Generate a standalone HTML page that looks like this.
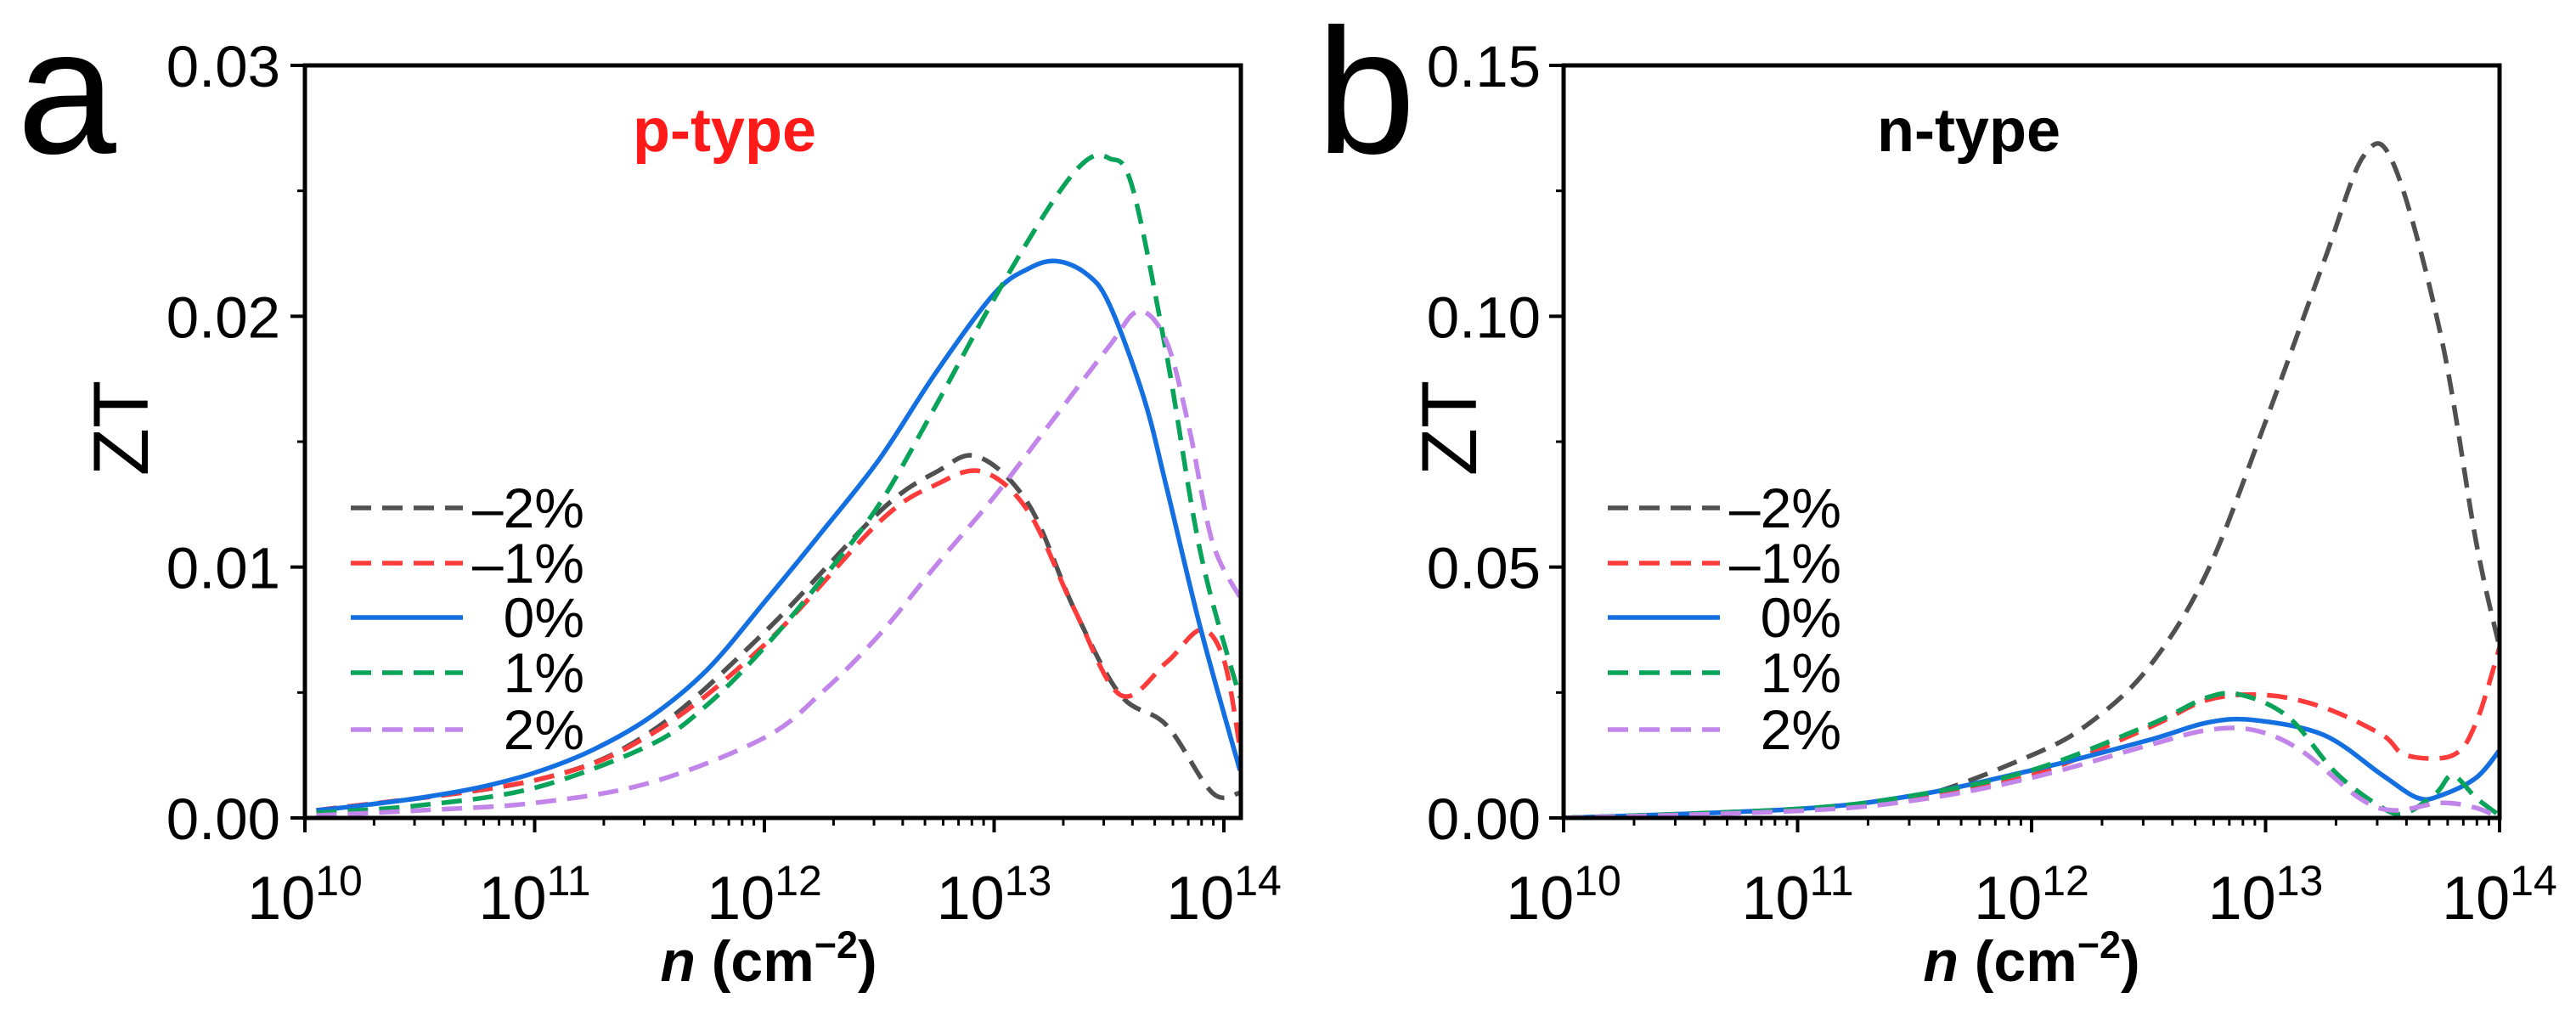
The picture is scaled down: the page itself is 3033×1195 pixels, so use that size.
<!DOCTYPE html>
<html><head><meta charset="utf-8"><style>
html,body{margin:0;padding:0;background:#fff;}
svg{display:block;font-family:"Liberation Sans",Arial,sans-serif;}
</style></head><body>
<svg id="fig" width="3033" height="1195" viewBox="0 0 3033 1195" xmlns="http://www.w3.org/2000/svg"></svg>
<script>
// ---- Panel a data (x = log10 n, y = ZT) ----
const aGrayX=[10.05,11,11.5,12,12.5,12.75,12.93,13.15,13.35,13.55,13.75,13.95,14.07];
const aGrayY=[0.0003,0.0015,0.0034,0.0074,0.0122,0.0138,0.0144,0.0125,0.0083,0.0049,0.0037,0.001,0.001];
const aRedX=[10.05,11,11.5,12,12.5,12.75,12.95,13.15,13.35,13.55,13.75,13.9,14.0,14.07];
const aRedY=[0.0003,0.0015,0.0033,0.0069,0.0118,0.0133,0.0138,0.0122,0.0083,0.0049,0.0062,0.0075,0.0063,0.0028];
const aBlueX=[10.05,10.25,10.5,10.75,11,11.25,11.5,11.75,12,12.25,12.5,12.75,13,13.15,13.27,13.4,13.5,13.65,13.75,13.9,14.07];
const aBlueY=[0.0003,0.0005,0.0008,0.0012,0.0018,0.0027,0.004,0.0059,0.0086,0.0114,0.0143,0.0178,0.0209,0.0219,0.0222,0.0217,0.0205,0.0168,0.0132,0.0075,0.0019];
const aGreenX=[10.05,10.5,11,11.5,11.75,12,12.25,12.5,12.75,13,13.25,13.4,13.5,13.6,13.75,13.9,14.07];
const aGreenY=[0.0002,0.0005,0.0012,0.0029,0.0045,0.0068,0.0095,0.0125,0.0165,0.0207,0.0245,0.0262,0.0263,0.0252,0.0185,0.0105,0.0048];
const aPurpleX=[10.05,10.5,11,11.5,12,12.25,12.5,12.75,13,13.25,13.5,13.63,13.75,13.85,13.95,14.07];
const aPurpleY=[0.0001,0.0003,0.0006,0.0014,0.0032,0.005,0.0073,0.0101,0.0128,0.0158,0.0188,0.0202,0.019,0.0155,0.011,0.0088];
const aYTicks=[0,0.01,0.02,0.03];
const aYLabels=["0.00","0.01","0.02","0.03"];
// ---- Panel b data ----
const bGrayX=[10,11,11.5,12,12.25,12.5,12.75,13,13.25,13.42,13.55,13.75,13.9,14];
const bGrayY=[0,0.0015,0.004,0.0125,0.019,0.03,0.049,0.079,0.111,0.132,0.13,0.096,0.055,0.034];
const bRedX=[10,11,11.5,12,12.5,12.75,13,13.25,13.5,13.6,13.8,13.9,14];
const bRedY=[0,0.0015,0.004,0.0085,0.018,0.0235,0.0245,0.022,0.0165,0.0125,0.0125,0.019,0.034];
const bBlueX=[10,11,11.5,12,12.5,12.75,12.95,13.25,13.5,13.65,13.75,13.9,14];
const bBlueY=[0,0.0018,0.0045,0.0095,0.0155,0.019,0.0195,0.0165,0.0085,0.004,0.0045,0.008,0.0135];
const bGreenX=[10,11,11.5,12,12.5,12.75,12.9,13.1,13.3,13.5,13.6,13.73,13.8,13.9,14];
const bGreenY=[0,0.0018,0.0045,0.0095,0.0185,0.024,0.0245,0.02,0.009,0.002,0.001,0.005,0.0085,0.004,0.0005];
const bPurpleX=[10,11,11.5,12,12.5,12.75,12.95,13.15,13.4,13.55,13.75,13.9,14];
const bPurpleY=[0,0.0014,0.0035,0.008,0.0145,0.0175,0.0175,0.0135,0.004,0.0015,0.003,0.002,0];
const bYTicks=[0,0.05,0.10,0.15];
const bYLabels=["0.00","0.05","0.10","0.15"];
const xDecades=[10,11,12,13,14];
const legendLabels=["\u20132%","\u20131%","0%","1%","2%"];

const NS="http://www.w3.org/2000/svg";
const svg=document.getElementById('fig');
function mk(tag,attrs,parent){const e=document.createElementNS(NS,tag);for(const k in attrs)e.setAttribute(k,attrs[k]);(parent||svg).appendChild(e);return e;}
const colors=["#505050","#ff3b3b","#1470e0","#0aa35a","#c285ea"];
const dashes=["24 13","24 13","none","24 13","24 13"];

function path(xs,ys,sx,sy){
  const p=xs.map((x,i)=>[sx(x),sy(ys[i])]);
  let d="M"+p[0][0].toFixed(1)+","+p[0][1].toFixed(1);
  for(let i=0;i<p.length-1;i++){
    const p0=p[Math.max(0,i-1)],p1=p[i],p2=p[i+1],p3=p[Math.min(p.length-1,i+2)];
    const c1=[p1[0]+(p2[0]-p0[0])/6,p1[1]+(p2[1]-p0[1])/6];
    const c2=[p2[0]-(p3[0]-p1[0])/6,p2[1]-(p3[1]-p1[1])/6];
    d+=" C"+c1[0].toFixed(1)+","+c1[1].toFixed(1)+" "+c2[0].toFixed(1)+","+c2[1].toFixed(1)+" "+p2[0].toFixed(1)+","+p2[1].toFixed(1);
  }
  return d;
}

function panel(cfg){
  const g=mk('g',{});
  
  
  const L=cfg.left,R=cfg.right,T=77,B=963,dec=cfg.dec;
  const sx=v=>L+(v-10)*dec;
  const sy=v=>B-(v/cfg.ymax)*(B-T);
  const cid='clip'+cfg.id;
  const cp=mk('clipPath',{id:cid},g);mk('rect',{x:L,y:T,width:R-L,height:B-T},cp);
  cfg.series.forEach((s,i)=>{
    const pe=mk('path',{d:path(s[0],s[1],sx,sy),fill:"none",stroke:colors[i],"stroke-width":5.5,"stroke-dasharray":dashes[i],"clip-path":"url(#"+cid+")","stroke-linejoin":"round"},g);
    
    
  });
  const fr=mk('rect',{x:L,y:T,width:R-L,height:B-T,fill:"none",stroke:"#000","stroke-width":5},g);
  
  
  xDecades.forEach(d=>{
    const x=sx(d);
    mk('line',{x1:x,y1:B,x2:x,y2:B+17,stroke:"#000","stroke-width":4},g);
    const t=mk('text',{x:x,y:1082,"font-size":72,"text-anchor":"middle"},g);
    
    
    t.textContent="10";
    const s=mk('tspan',{dy:-28,"font-size":50},t);s.textContent=String(d);
    if(d<14)for(let m=2;m<=9;m++){const xm=sx(d+Math.log10(m));mk('line',{x1:xm,y1:B,x2:xm,y2:B+9,stroke:"#000","stroke-width":3},g);}
  });
  cfg.yt.forEach((v,i)=>{
    const y=sy(v);
    mk('line',{x1:L-17,y1:y,x2:L,y2:y,stroke:"#000","stroke-width":4},g);
    const t=mk('text',{x:cfg.ylx,y:y+25,"font-size":69,"text-anchor":"end"},g);
    
    
    t.textContent=cfg.yl[i];
    if(i<cfg.yt.length-1){const ym=sy((v+cfg.yt[i+1])/2);mk('line',{x1:L-9,y1:ym,x2:L,y2:ym,stroke:"#000","stroke-width":3},g);}
  });
  const xt=mk('text',{x:cfg.xtx,y:1155,"font-size":68,"font-weight":"bold","text-anchor":"middle"},g);
  
  
  const n=mk('tspan',{"font-style":"italic"},xt);n.textContent="n";
  const c=mk('tspan',{},xt);c.textContent=" (cm";
  const e=mk('tspan',{dy:-27,"font-size":45},xt);e.textContent="\u22122";
  const c2=mk('tspan',{dy:27},xt);c2.textContent=")";
  const yt=mk('text',{x:0,y:0,"font-size":92,"text-anchor":"middle",transform:"translate("+(cfg.ztx+33)+",504) rotate(-90)"},g);
  
  
  yt.textContent="ZT";
  const pl=mk('text',{x:cfg.plx,y:180,"font-size":210},g);
  
  
  pl.textContent=cfg.letter;
  const tt=mk('text',{x:cfg.ttx,y:178,"font-size":72,"font-weight":"bold",fill:cfg.tcol},g);
  
  
  tt.textContent=cfg.title;
  const rows=[598,663,727,792,859];
  rows.forEach((y,i)=>{
    const lg=mk('g',{},g);
    
    
    mk('line',{x1:cfg.lgx,y1:y,x2:cfg.lgx+132,y2:y,stroke:colors[i],"stroke-width":5.5,"stroke-dasharray":dashes[i]},lg);
    const t=mk('text',{x:cfg.lgtx,y:y+23,"font-size":66,"text-anchor":"end"},lg);
    t.textContent=legendLabels[i];
  });
}
panel({id:'a',name:'panel-a',left:359,right:1461,dec:270.5,ymax:0.03,yt:aYTicks,yl:aYLabels,ylx:330,xtx:905,ztx:141,plx:20,letter:"a",ttx:745,title:"p-type",tcol:"#ff1a1a",lgx:413,lgtx:688,
  series:[[aGrayX,aGrayY],[aRedX,aRedY],[aBlueX,aBlueY],[aGreenX,aGreenY],[aPurpleX,aPurpleY]]});
panel({id:'b',name:'panel-b',left:1841,right:2943,dec:275.5,ymax:0.15,yt:bYTicks,yl:bYLabels,ylx:1814,xtx:2392,ztx:1705,plx:1550,letter:"b",ttx:2210,title:"n-type",tcol:"#000",lgx:1893,lgtx:2168,
  series:[[bGrayX,bGrayY],[bRedX,bRedY],[bBlueX,bBlueY],[bGreenX,bGreenY],[bPurpleX,bPurpleY]]});
</script>
</body></html>
